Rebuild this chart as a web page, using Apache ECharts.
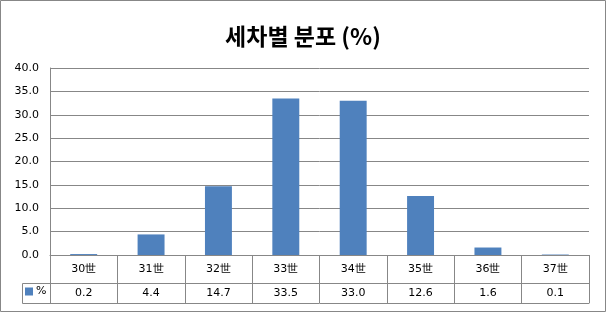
<!DOCTYPE html>
<html>
<head>
<meta charset="utf-8">
<script src="https://cdn.jsdelivr.net/npm/echarts@6/dist/echarts.min.js"></script>
<style>
html,body{margin:0;padding:0;background:#fff;}
#c{width:606px;height:312px;}
</style>
</head>
<body>
<div id="c"></div>
<script>
const titleText = '세차별 분포 (%)';
const seriesName = '%';
const categories = ['30世','31世','32世','33世','34世','35世','36世','37世'];
const values = [0.2, 4.4, 14.7, 33.5, 33.0, 12.6, 1.6, 0.1];
const yTicks = [0, 5, 10, 15, 20, 25, 30, 35, 40];

const FONT = 'DejaVu Sans';
const GRAY = '#878787';
const valueLabels = values.map(v => v.toFixed(1));

const chart = echarts.init(document.getElementById('c'), null, {renderer: 'canvas'});
chart.setOption({
  animation: false,
  backgroundColor: '#fff',
  title: {
    text: titleText,
    left: 'center',
    top: 20,
    textStyle: {fontFamily: 'Noto Sans CJK KR', fontSize: 23, fontWeight: 'bold', color: '#000'}
  },
  legend: {
    data: [seriesName],
    left: 22,
    top: 285,
    padding: [1, 3, 1, 3],
    itemWidth: 8,
    itemHeight: 8,
    itemGap: 2,
    icon: 'rect',
    textStyle: {fontFamily: FONT, fontSize: 11, color: '#000', padding: [0, 0, 0, -2]}
  },
  grid: {left: 50, right: 17, top: 68, bottom: 57, containLabel: false},
  xAxis: [
    {
      type: 'category',
      data: categories,
      position: 'bottom',
      axisLine: {show: true, lineStyle: {color: GRAY, width: 1}},
      axisTick: {show: true, length: 28, inside: false, lineStyle: {color: GRAY}},
      axisLabel: {fontFamily: FONT, fontSize: 11, color: '#000', margin: 9}
    },
    {
      type: 'category',
      data: valueLabels,
      position: 'bottom',
      offset: 28,
      axisLine: {show: true, lineStyle: {color: GRAY, width: 1}},
      axisTick: {show: true, length: 20, lineStyle: {color: GRAY}},
      axisLabel: {fontFamily: FONT, fontSize: 11, color: '#000', margin: 5}
    },
    {
      type: 'category',
      data: categories,
      position: 'bottom',
      offset: 48,
      axisLine: {show: true, lineStyle: {color: GRAY, width: 1}},
      axisTick: {show: false},
      axisLabel: {show: false}
    }
  ],
  yAxis: {
    type: 'value',
    min: yTicks[0],
    max: yTicks[yTicks.length - 1],
    interval: yTicks[1] - yTicks[0],
    axisLine: {show: true, lineStyle: {color: GRAY}},
    axisTick: {show: false},
    splitLine: {show: true, lineStyle: {color: GRAY, width: 1}},
    axisLabel: {fontFamily: FONT, fontSize: 11, color: '#000', margin: 11,
      formatter: v => v.toFixed(1)}
  },
  graphic: [
    {type: 'rect', shape: {x: 22.5, y: 283.5, width: 28, height: 20},
     style: {fill: 'none', stroke: GRAY, lineWidth: 1}, z: 10},
    {type: 'rect', shape: {x: 0.5, y: 0.5, width: 605, height: 311},
     style: {fill: 'none', stroke: GRAY, lineWidth: 1}, z: 10}
  ],
  series: [{
    name: seriesName,
    type: 'bar',
    data: values,
    barWidth: '40%',
    itemStyle: {color: '#4F81BD'}
  }]
});
</script>
</body>
</html>
